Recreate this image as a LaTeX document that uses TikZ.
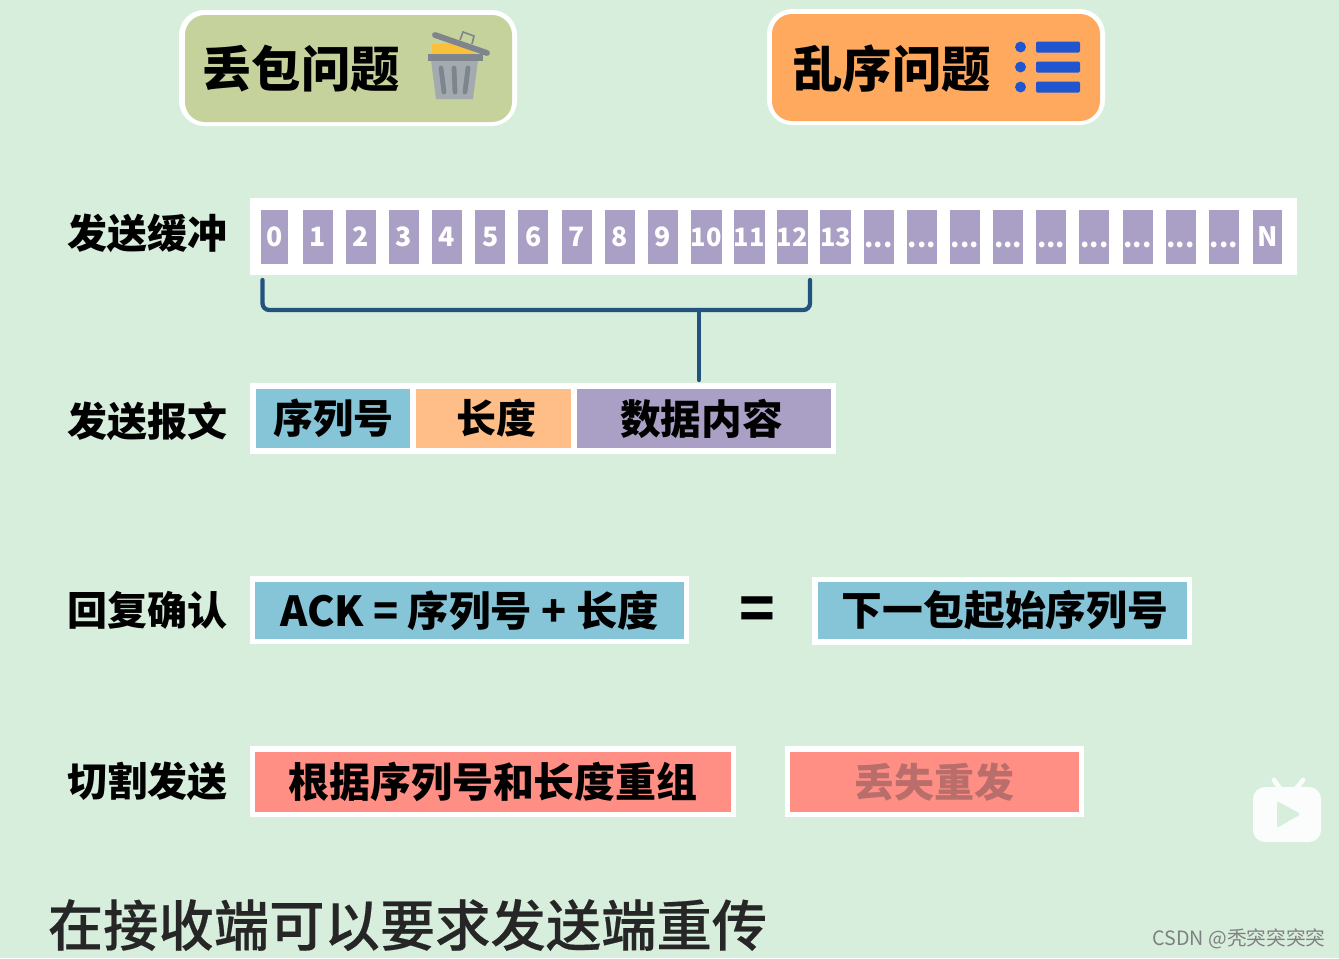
\documentclass[tikz,border=0pt]{standalone}
\usepackage{fontspec}
\setmainfont{Noto Sans CJK SC}
\newfontfamily\medfont[FakeBold=0.35]{Noto Sans CJK SC Medium}
\usetikzlibrary{calc}
\definecolor{bgc}{HTML}{D8EEDD}
\definecolor{olivec}{HTML}{C6D29C}
\definecolor{orangec}{HTML}{FFA95F}
\definecolor{cellc}{HTML}{AAA0C6}
\definecolor{bluec}{HTML}{86C4D8}
\definecolor{peachc}{HTML}{FFBD87}
\definecolor{redc}{HTML}{FF8F85}
\definecolor{linec}{HTML}{24527F}
\definecolor{iconblue}{HTML}{1F56CF}
\definecolor{fadedc}{HTML}{B96E6B}
\definecolor{trashy}{HTML}{F9C03C}
\definecolor{trashd}{HTML}{7E858C}
\definecolor{trashm}{HTML}{A3AAB0}
\tikzset{
  x=0.75pt,y=-0.75pt,
  pxbox/.style 2 args={minimum width=#1*0.75pt,minimum height=#2*0.75pt,inner sep=0pt,outer sep=0pt,anchor=center},
  rowlabel/.style={font=\fontsize{30}{30}\selectfont\bfseries,text=black,inner sep=0pt,anchor=center},
  boxtext/.style={font=\fontsize{30}{30}\selectfont\bfseries,text=black,inner sep=0pt},
  celltext/.style={font=\fontsize{20}{20}\selectfont\bfseries,text=white,inner sep=0pt,fill=cellc},
  bracketline/.style={draw=linec,line width=3.2pt,line cap=round,line join=round},
}
\begin{document}
\begin{tikzpicture}
\useasboundingbox (0,0) rectangle (1339,958);
\fill[bgc] (0,0) rectangle (1339,958);
% header boxes
\node[pxbox={338}{116},fill=white,rounded corners=19pt] (lossouter) at (348,68) {};
\node[pxbox={327}{107},fill=olivec,rounded corners=15pt] (loss) at (348.5,68.5) {};
\node[font=\fontsize{37}{37}\selectfont\bfseries,inner sep=0pt] (losstxt) at (301,69) {丢包问题};
\node[pxbox={338}{116},fill=white,rounded corners=19pt] (orderouter) at (936,67) {};
\node[pxbox={328}{107},fill=orangec,rounded corners=15pt] (order) at (936,67.5) {};
\node[font=\fontsize{37}{37}\selectfont\bfseries,inner sep=0pt] (ordertxt) at (892,69) {乱序问题};
% trash icon
\fill[trashy] (432,44) -- (458,43) -- (476,54) -- (432,58) -- cycle;
\fill[trashm] (431,60) -- (478,60) -- (473,99) -- (436,99) -- cycle;
\fill[trashd] (428,54) rectangle (483,61);
\foreach \xa/\xb in {441/444,454/455,468/465}
  \draw[trashd,line width=3.6pt,line cap=round] (\xa,68) -- (\xb,92);
\draw[trashd,line width=4.4pt,line cap=round] (435,35) -- (487,53);
\draw[trashd,line width=1.2pt] (460,40) -- (463,32) -- (474,36) -- (472,44);
% list icon
\foreach \yy in {47,67,87}{
  \fill[iconblue] (1020.5,\yy) circle[radius=4.1pt];
  \fill[iconblue,rounded corners=1pt] (1036,{\yy-5.5}) rectangle (1080,{\yy+5.5});
}
% row labels
\node[rowlabel] (r1) at (147.5,233) {发送缓冲};
\node[rowlabel] (r2) at (147.5,421) {发送报文};
\node[rowlabel] (r3) at (147.5,610) {回复确认};
\node[rowlabel] (r4) at (147.5,781) {切割发送};
% buffer
\fill[white] (250,198) rectangle (1297,275);
\node[celltext,pxbox={27}{54}] (c0) at (274.5,237) {0};
\foreach \lab [count=\i from 1] in {1,2,3,4,5,6,7,8,9}
  \node[celltext,pxbox={30}{54}] (c\i) at ({274.5+43.15*\i},237) {\lab};
\foreach \lab [count=\i from 10] in {10,11,12,13}
  \node[celltext,pxbox={31}{54},font=\fontsize{19}{19}\selectfont\bfseries] (c\i) at ({274.5+43.15*\i},237) {\lab};
\foreach \i in {14,...,22}
  \node[celltext,pxbox={30}{54}] (c\i) at ({274.5+43.15*\i},237) {\raisebox{-8pt}[0pt][0pt]{{.}{.}{.}}};
\node[celltext,pxbox={29}{54}] (cN) at (1267.5,237) {N};
% bracket
\coordinate (bl) at (262.5,280);
\coordinate (br) at (810,280);
\coordinate (blc) at (262.5,310);
\coordinate (brc) at (810,310);
\coordinate (bm) at (699,310);
\draw[bracketline,rounded corners=5pt] (bl) -- (blc) -- (brc) -- (br);
% packet row
\fill[white] (250,383) rectangle (836,454);
\node[pxbox={154}{59},fill=bluec,boxtext] (seq) at (333,418.5) {序列号};
\node[pxbox={155}{59},fill=peachc,boxtext,text width=155*0.75pt,align=center] (len) at (493.5,418.5) {\hspace*{5pt}长度};
\node[pxbox={254}{59},fill=cellc,boxtext,font=\fontsize{30.5}{30.5}\selectfont\bfseries,text width=254*0.75pt,align=center] (data) at (704,418.5) {\hspace*{-4pt}数据内容};
\draw[bracketline] (bm) -- (699,380);
% ack row
\fill[white] (250,576) rectangle (689,644);
\node[pxbox={429}{57},fill=bluec,boxtext,font=\fontsize{31}{31}\selectfont\bfseries] (ack) at (469.5,610.5) {ACK = 序列号 + 长度};
\node[inner sep=0pt,font=\fontsize{44}{44}\selectfont\bfseries] (eq) at (757,614) {=};
\fill[white] (812,577) rectangle (1192,645);
\node[pxbox={369}{57},fill=bluec,boxtext,font=\fontsize{30.6}{30.6}\selectfont\bfseries,text width=369*0.75pt,align=center] (next) at (1002.5,610.5) {\hspace*{4pt}下一包起始序列号};
% red row
\fill[white] (250,746) rectangle (736,817);
\node[pxbox={476}{60},fill=redc,boxtext,font=\fontsize{30.7}{30.7}\selectfont\bfseries] (reorder) at (493,782) {根据序列号和长度重组};
\fill[white] (785,746) rectangle (1084,817);
\node[pxbox={289}{60},fill=redc,font=\fontsize{30}{30}\selectfont\bfseries,text=fadedc] (resend) at (934.5,782) {丢失重发};
% bottom sentence
\node[inner sep=0pt,font=\fontsize{41.5}{41.5}\medfont,text=black!85] (bottom) at (407.5,925) {在接收端可以要求发送端重传};
% play icon
\draw[white!90!bgc,line width=3.5pt,line cap=round] (1274,780) -- (1281,790);
\draw[white!90!bgc,line width=3.5pt,line cap=round] (1303,780) -- (1295,790);
\fill[white!88!bgc,rounded corners=9pt] (1253,787) rectangle (1321,842);
\fill[bgc,rounded corners=2pt] (1277,801) -- (1301,814) -- (1277,828) -- cycle;
% watermark
\node[inner sep=0pt,text=black!50,font=\fontsize{14.8}{14.8}\selectfont] (mark) at (1239,939) {CSDN @秃突突突突};
\end{tikzpicture}
\end{document}
